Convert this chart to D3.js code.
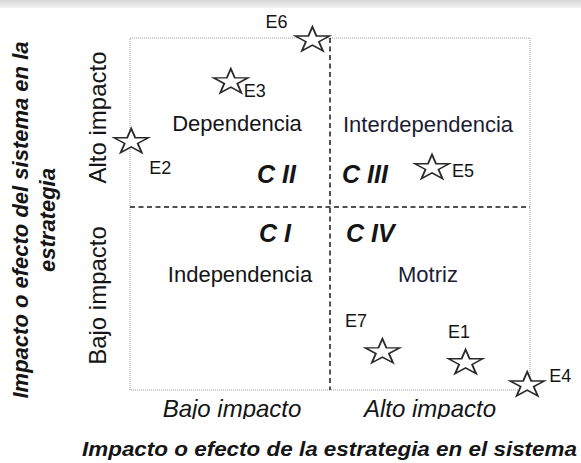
<!DOCTYPE html>
<html>
<head>
<meta charset="utf-8">
<script src="https://cdn.jsdelivr.net/npm/d3@7"></script>
<style>
  body { margin: 0; background: #fff; }
  text { font-family: "Liberation Sans", Arial, sans-serif; fill: #151515; }
</style>
</head>
<body>
<script>
var width = 581, height = 463;

// strategies (0..10 on both axes)
var names = ["E1", "E2", "E3", "E4", "E5", "E6", "E7"];
var xValues = [8.39, 0.03, 2.52, 9.93, 7.55, 4.56, 6.31];
var yValues = [0.77, 7.05, 8.75, 0.14, 6.31, 9.94, 1.08];

var quadrantNames = ["Dependencia", "Interdependencia", "Independencia", "Motriz"];
var quadrantCodes = ["C II", "C III", "C I", "C IV"];
var levelLabels = ["Bajo impacto", "Alto impacto"];
var xTitle = "Impacto o efecto de la estrategia en el sistema";
var yTitle = ["Impacto o efecto del sistema en la", "estrategia"];
var xSplit = 5, ySplit = 5.2;

var svg = d3.select("body").append("svg")
	.attr("width", width).attr("height", height);

// pdf viewer shadow at the top
var grad = svg.append("defs").append("linearGradient")
	.attr("id", "topShade").attr("x1", 0).attr("y1", 0).attr("x2", 0).attr("y2", 1);
grad.append("stop").attr("offset", "0%").attr("stop-color", "#d6d6d6");
grad.append("stop").attr("offset", "100%").attr("stop-color", "#f3f3f3");
svg.append("rect").attr("width", width).attr("height", 8).attr("fill", "url(#topShade)");

svg.select("defs").append("clipPath").attr("id", "cut")
	.append("rect").attr("x", 0).attr("y", 0).attr("width", width).attr("height", 419);

var x = d3.scaleLinear().domain([0, 10]).range([130, 530]);
var y = d3.scaleLinear().domain([0, 10]).range([390, 38]);

// dotted frame
svg.append("rect")
	.attr("x", x(0)).attr("y", y(10))
	.attr("width", x(10) - x(0)).attr("height", y(0) - y(10))
	.attr("fill", "none").attr("stroke", "#9a9a9a")
	.attr("stroke-width", 1).attr("stroke-dasharray", "1,1");

// dashed split lines
svg.append("line")
	.attr("x1", x(xSplit)).attr("x2", x(xSplit))
	.attr("y1", y(10)).attr("y2", y(0))
	.attr("stroke", "#1a1a1a").attr("stroke-width", 1.5).attr("stroke-dasharray", "5,3.5");
svg.append("line")
	.attr("x1", x(0)).attr("x2", x(10))
	.attr("y1", y(ySplit)).attr("y2", y(ySplit))
	.attr("stroke", "#1a1a1a").attr("stroke-width", 1.5).attr("stroke-dasharray", "5,3.5");

// quadrant names
var leftC = (x(0) + x(xSplit)) / 2, rightC = (x(xSplit) + x(10)) / 2;
var nameX = [leftC + 7, rightC - 2, leftC + 10, rightC - 2];
var nameY = [y(ySplit) - 76, y(ySplit) - 75, y(ySplit) + 75, y(ySplit) + 75];
svg.selectAll("text.qname").data(quadrantNames).enter().append("text")
	.attr("class", "qname")
	.attr("x", function(d, i) { return nameX[i]; })
	.attr("y", function(d, i) { return nameY[i]; })
	.attr("text-anchor", "middle")
	.style("font-size", "22px")
	.style("fill", function(d, i) { return i % 2 ? "#1c1c34" : "#151515"; })
	.text(function(d) { return d; });

var codeX = [x(xSplit) - 34, x(xSplit) + 12, x(xSplit) - 39, x(xSplit) + 16];
var codeY = [y(ySplit) - 24, y(ySplit) - 24, y(ySplit) + 35, y(ySplit) + 35];
svg.selectAll("text.qcode").data(quadrantCodes).enter().append("text")
	.attr("class", "qcode")
	.attr("x", function(d, i) { return codeX[i]; })
	.attr("y", function(d, i) { return codeY[i]; })
	.attr("text-anchor", function(d, i) { return i % 2 ? "start" : "end"; })
	.style("font-size", "25px").style("font-weight", "bold").style("font-style", "italic")
	.text(function(d) { return d; });

// axis level labels
svg.selectAll("text.xlev").data(levelLabels).enter().append("text")
	.attr("class", "xlev")
	.attr("clip-path", "url(#cut)")
	.attr("x", function(d, i) { return i ? rightC : leftC + 2; })
	.attr("y", 417)
	.attr("text-anchor", "middle")
	.style("font-size", "24px").style("font-style", "italic")
	.text(function(d) { return d; });

svg.selectAll("text.ylev").data(levelLabels).enter().append("text")
	.attr("class", "ylev")
	.attr("transform", function(d, i) {
		var cy = i ? (y(10) + y(ySplit)) / 2 - 5 : (y(ySplit) + y(0)) / 2 - 3;
		return "translate(106," + cy + ") rotate(-90)";
	})
	.attr("text-anchor", "middle")
	.style("font-size", "24px")
	.text(function(d) { return d; });

// titles
svg.append("text")
	.attr("x", 82).attr("y", 456)
	.attr("textLength", 495).attr("lengthAdjust", "spacingAndGlyphs")
	.style("font-size", "20px").style("font-weight", "bold").style("font-style", "italic")
	.text(xTitle);

svg.selectAll("text.ytitle").data(yTitle).enter().append("text")
	.attr("class", "ytitle")
	.attr("transform", function(d, i) { return "translate(" + (28 + i * 27) + ",220) rotate(-90)"; })
	.attr("text-anchor", "middle")
	.style("font-size", "22px").style("font-weight", "bold").style("font-style", "italic")
	.text(function(d) { return d; });

// stars
var star = d3.symbol().type(d3.symbolStar).size(220);
var labelDx = [-17.5, 18, 13, 22, 20, -47, -37.5];
var labelDy = [-25, 32, 15, -3, 9, -12, -25];

var pts = svg.selectAll("g.pt").data(names).enter().append("g")
	.attr("class", "pt")
	.attr("transform", function(d, i) { return "translate(" + x(xValues[i]) + "," + y(yValues[i]) + ")"; });

pts.append("path")
	.attr("d", star())
	.attr("transform", "scale(1.28,0.95)")
	.attr("fill", "#fff").attr("stroke", "#2a2a2a").attr("stroke-width", 1.5);

pts.append("text")
	.attr("x", function(d, i) { return labelDx[i]; })
	.attr("y", function(d, i) { return labelDy[i]; })
	.style("font-size", "18px")
	.text(function(d) { return d; });
</script>
</body>
</html>
